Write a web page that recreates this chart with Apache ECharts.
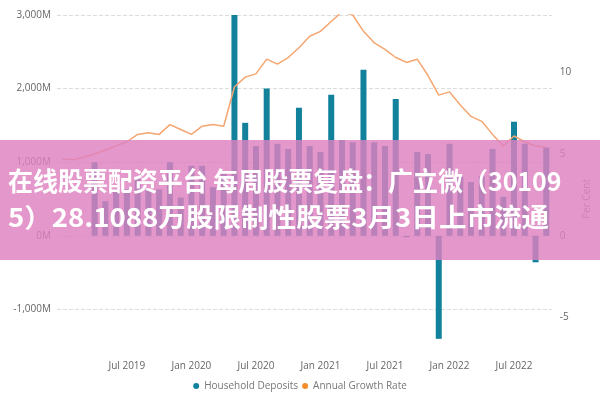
<!DOCTYPE html>
<html><head><meta charset="utf-8">
<script src="https://cdn.jsdelivr.net/npm/echarts@6/dist/echarts.min.js"></script>
<style>html,body{margin:0;padding:0;background:#fff}#c{width:600px;height:400px}</style>
</head><body><div id="c"></div>
<script>
const months = ['Jan 2019','Feb 2019','Mar 2019','Apr 2019','May 2019','Jun 2019','Jul 2019','Aug 2019','Sep 2019','Oct 2019','Nov 2019','Dec 2019',
'Jan 2020','Feb 2020','Mar 2020','Apr 2020','May 2020','Jun 2020','Jul 2020','Aug 2020','Sep 2020','Oct 2020','Nov 2020','Dec 2020',
'Jan 2021','Feb 2021','Mar 2021','Apr 2021','May 2021','Jun 2021','Jul 2021','Aug 2021','Sep 2021','Oct 2021','Nov 2021','Dec 2021',
'Jan 2022','Feb 2022','Mar 2022','Apr 2022','May 2022','Jun 2022','Jul 2022','Aug 2022','Sep 2022','Oct 2022'];
const depositsM = [null,null,null,1000,470,630,630,800,630,630,1000,520,950,950,660,860,3020,1535,1220,2000,1250,1180,1740,1220,1140,1915,1300,1270,2255,1270,1220,1860,-20,1140,1110,-1400,1250,810,730,810,1180,530,1550,1250,-360,1200];
const growthRate = [4.7,4.65,4.8,5.0,5.25,5.5,5.75,6.2,6.3,6.2,6.8,6.5,6.2,6.7,6.8,6.7,9.1,9.7,9.9,10.8,10.5,10.9,11.5,12.2,12.5,13.1,13.7,13.5,12.5,11.8,11.4,10.9,10.6,10.8,9.8,8.6,8.8,8.0,7.3,7.0,6.2,5.5,6.1,5.75,5.5,5.4];
const leftTicks = ['-1,000M','0M','1,000M','2,000M','3,000M'];
const rightTicks = [-5,0,5,10];
const bannerLine1 = '在线股票配资平台 每周股票复盘：广立微（30109';
const bannerLine2 = '5）28.1088万股限制性股票3月3日上市流通';

const chart = echarts.init(document.getElementById('c'));
const gridCol = '#dcdcdc';
chart.setOption({
  animation:false,
  textStyle:{fontFamily:'Open Sans'},
  grid:{left:57,right:39,top:15,bottom:17},
  legend:{bottom:4,left:'center',itemWidth:6,itemHeight:6,itemGap:4,icon:'circle',
    textStyle:{color:'#777',fontSize:10},
    data:['Household Deposits','Annual Growth Rate']},
  xAxis:{type:'category',data:months,offset:-30,
    axisLine:{show:false},axisTick:{show:false},
    axisLabel:{color:'#666',fontSize:10,interval:0,
      formatter:v=>(v.startsWith('Jan')||v.startsWith('Jul'))&&months.indexOf(v)>=6?v:''}},
  yAxis:[
    {type:'value',min:-2000,max:3000,interval:1000,
     axisLabel:{color:'#666',fontSize:10,margin:6,
       formatter:v=>v===-2000?'':leftTicks[(v+1000)/1000]},
     splitLine:{lineStyle:{type:'dashed',color:['rgba(0,0,0,0)',gridCol,gridCol,gridCol,gridCol,gridCol]}}},
    {type:'value',min:-9,max:13.5,interval:1,position:'right',
     name:'Per Cent',nameLocation:'middle',nameGap:26,nameRotate:90,
     nameTextStyle:{color:'#888',fontSize:10},
     axisLabel:{color:'#666',fontSize:10,margin:8,
       formatter:v=>rightTicks.includes(v)?String(v):''},
     splitLine:{show:false}}
  ],
  series:[
    {name:'Household Deposits',type:'bar',data:depositsM,barWidth:6,
     itemStyle:{color:'#12819c'}},
    {name:'Annual Growth Rate',type:'line',yAxisIndex:1,data:growthRate,
     symbol:'none',lineStyle:{color:'#f5a670',width:1.5},itemStyle:{color:'#f28e2b'}}
  ],
  graphic:[
    {type:'rect',left:0,top:140,shape:{width:600,height:120},z:100,
     style:{fill:'rgba(222,128,192,0.82)'}},
    {type:'text',x:8,y:168,scaleX:0.96,z:101,style:{text:bannerLine1,fill:'#fff',
      font:'bold 26px "Noto Sans CJK SC"'}},
    {type:'text',x:8,y:204,scaleX:1.06,z:101,style:{text:bannerLine2,fill:'#fff',
      font:'bold 26px "Noto Sans CJK SC"'}}
  ]
});
</script></body></html>
